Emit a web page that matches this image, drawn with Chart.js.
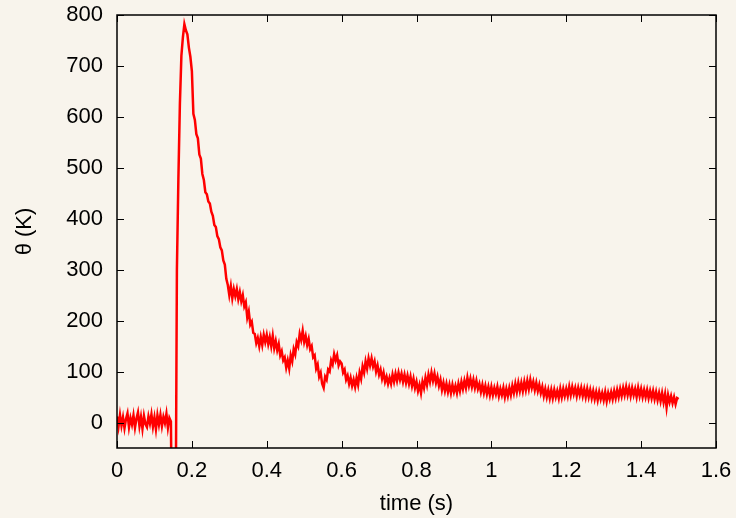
<!DOCTYPE html>
<html>
<head>
<meta charset="utf-8">
<title>theta vs time</title>
<script src="https://cdn.jsdelivr.net/npm/chart.js@4.4.1/dist/chart.umd.min.js"></script>
<style>
  html, body { margin: 0; padding: 0; background: #f8f4ec; }
  #wrap { width: 736px; height: 518px; position: relative; }
</style>
</head>
<body>
<div id="wrap"><canvas id="thetaChart"></canvas></div>
<script>
// sampled temperature trace, one value every dt seconds from t0
var t0 = 0;
var dt = 0.004;
var theta = [
  12, -8, 15, -6, 10, -11, 7, 18, -9, 9,
  -4, 14, -10, 8, 20, -7, 11, -12, 13, -3,
  -9, 12, -2, 16, -8, 10, -13, 14, -4, 15,
  -7, 11, -1, 17, -10, 9, 2, -300, -300, -300,
  300, 480, 626, 720, 756, 782, 770, 762, 736, 718,
  690, 606, 594, 566, 558, 526, 518, 488, 476, 452,
  448, 434, 430, 414, 406, 388, 384, 366, 360, 344,
  338, 318, 310, 282, 270, 250, 268, 244, 262, 248,
  262, 242, 256, 238, 250, 228, 236, 206, 218, 192,
  198, 176, 174, 156, 166, 150, 168, 152, 172, 158,
  172, 154, 168, 150, 170, 146, 160, 142, 154, 132,
  140, 122, 128, 108, 122, 106, 132, 120, 144, 134,
  158, 150, 174, 162, 180, 158, 170, 152, 164, 144,
  150, 128, 132, 106, 114, 90, 98, 76, 68, 90,
  84, 104, 100, 122, 114, 134, 122, 132, 112, 120,
  116, 98, 104, 84, 92, 76, 88, 72, 84, 70,
  88, 74, 98, 86, 110, 98, 120, 106, 126, 112,
  126, 110, 120, 100, 112, 94, 104, 86, 98, 80,
  90, 76, 88, 76, 94, 80, 96, 82, 98, 84,
  96, 80, 94, 78, 92, 76, 90, 72, 86, 68,
  80, 62, 74, 58, 80, 68, 88, 74, 94, 80,
  98, 82, 96, 78, 90, 72, 84, 64, 78, 62,
  76, 60, 74, 58, 74, 60, 72, 58, 76, 62,
  80, 66, 82, 68, 88, 72, 86, 70, 84, 68,
  82, 66, 76, 60, 74, 58, 72, 56, 70, 54,
  70, 54, 68, 56, 70, 52, 66, 54, 68, 50,
  66, 52, 68, 54, 72, 58, 76, 60, 78, 62,
  78, 62, 80, 64, 82, 66, 84, 68, 80, 64,
  78, 62, 74, 58, 70, 52, 66, 50, 64, 48,
  64, 48, 64, 50, 62, 48, 66, 50, 66, 52,
  66, 52, 70, 54, 70, 56, 68, 52, 68, 54,
  68, 52, 66, 50, 66, 50, 64, 48, 62, 46,
  60, 44, 60, 46, 58, 44, 60, 42, 58, 46,
  60, 46, 62, 48, 64, 50, 66, 52, 68, 54,
  70, 54, 68, 52, 68, 54, 66, 50, 68, 52,
  66, 50, 64, 50, 64, 48, 62, 48, 62, 46,
  60, 44, 58, 42, 58, 40, 56, 30, 54, 40,
  52, 38, 50, 36, 48, 46
];

var xTicks = [0, 0.2, 0.4, 0.6, 0.8, 1, 1.2, 1.4, 1.6];
var xTickLabels = ["0", "0.2", "0.4", "0.6", "0.8", "1", "1.2", "1.4", "1.6"];
var yTicks = [0, 100, 200, 300, 400, 500, 600, 700, 800];
var yTickLabels = ["0", "100", "200", "300", "400", "500", "600", "700", "800"];

var points = theta.map(function (v, i) {
  return { x: t0 + i * dt, y: v };
});

// gnuplot-like box with ticks pointing into the plot
var frameTicks = {
  id: "frameTicks",
  afterDatasetsDraw: function (chart) {
    var ctx = chart.ctx;
    var a = chart.chartArea;
    var xs = chart.scales.x;
    var ys = chart.scales.y;
    var len = 7;
    ctx.save();
    ctx.strokeStyle = "#000";
    ctx.lineWidth = 1;
    ctx.beginPath();
    xTicks.forEach(function (v) {
      var px = Math.round(xs.getPixelForValue(v)) + 0.5;
      ctx.moveTo(px, a.bottom); ctx.lineTo(px, a.bottom - len);
      ctx.moveTo(px, a.top); ctx.lineTo(px, a.top + len);
    });
    yTicks.forEach(function (v) {
      var py = Math.round(ys.getPixelForValue(v)) + 0.5;
      ctx.moveTo(a.left, py); ctx.lineTo(a.left + len, py);
      ctx.moveTo(a.right, py); ctx.lineTo(a.right - len, py);
    });
    ctx.stroke();
    ctx.lineWidth = 1.5;
    ctx.strokeRect(a.left, a.top, a.right - a.left, a.bottom - a.top);
    ctx.restore();
  }
};

var font = { family: "'Liberation Sans', Arial, sans-serif", size: 22 };

new Chart(document.getElementById("thetaChart").getContext("2d"), {
  type: "line",
  data: {
    datasets: [
      {
        data: points,
        borderColor: "#ff0000",
        borderWidth: 2.5,
        pointRadius: 0,
        tension: 0,
        fill: false,
        clip: 0,
      },
    ],
  },
  options: {
    responsive: true,
    maintainAspectRatio: false,
    animation: false,
    layout: { padding: { left: 0, right: 20, top: 15, bottom: 0 } },
    plugins: {
      legend: { display: false },
      tooltip: { enabled: false },
    },
    scales: {
      x: {
        type: "linear",
        min: 0,
        max: 1.6,
        grid: { display: false, drawTicks: false },
        border: { display: false },
        afterBuildTicks: function (scale) {
          scale.ticks = xTicks.map(function (v) { return { value: v }; });
        },
        afterFit: function (scale) {
          // labels may hang over the edges; keep the box where it is
          scale.height = 70;
          scale.paddingLeft = 0;
          scale.paddingRight = 0;
        },
        ticks: {
          color: "#000",
          font: font,
          padding: 10,
          maxRotation: 0,
          autoSkip: false,
          callback: function (v, i) { return xTickLabels[i]; },
        },
        title: {
          display: true,
          text: "time (s)",
          color: "#000",
          font: font,
          padding: { top: 0, bottom: 1 },
        },
      },
      y: {
        min: -50,
        max: 800,
        grid: { display: false, drawTicks: false },
        border: { display: false },
        afterBuildTicks: function (scale) {
          scale.ticks = yTicks.map(function (v) { return { value: v }; });
        },
        afterFit: function (scale) {
          scale.width = 117;
          scale.paddingTop = 0;
          scale.paddingBottom = 0;
        },
        ticks: {
          color: "#000",
          font: font,
          padding: 14,
          autoSkip: false,
          callback: function (v, i) { return yTickLabels[i]; },
        },
        title: {
          display: true,
          text: "θ (K)",
          color: "#000",
          font: font,
          padding: { top: 12, bottom: 0 },
        },
      },
    },
  },
  plugins: [frameTicks],
});
</script>
</body>
</html>
